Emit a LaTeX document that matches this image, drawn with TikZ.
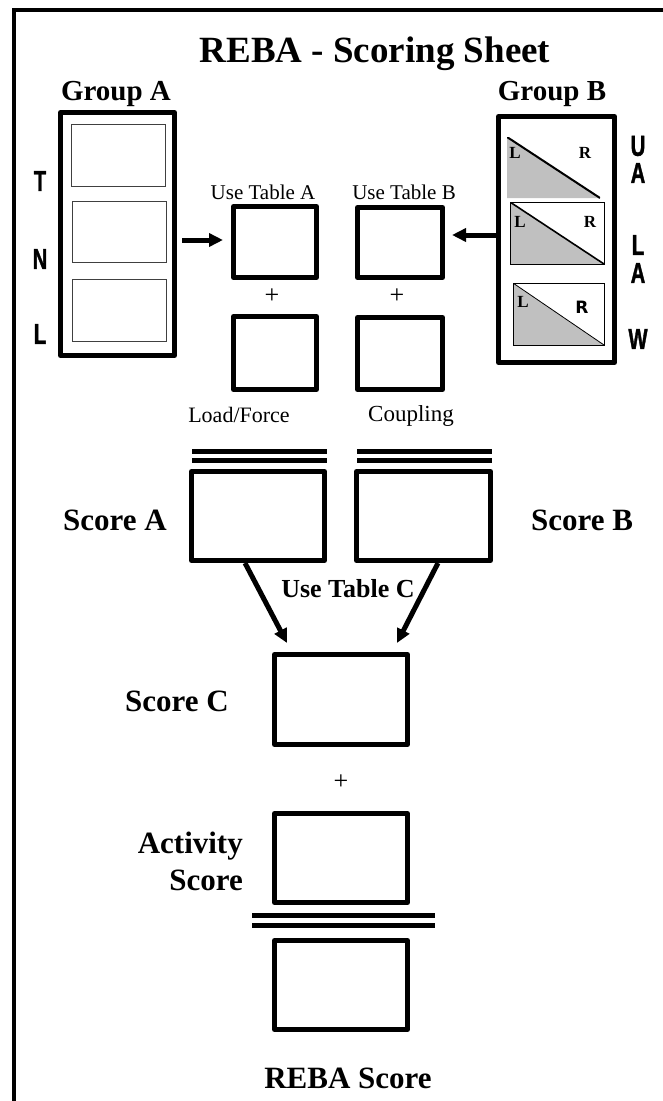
\documentclass[tikz,border=0pt]{standalone}
\usepackage{fontspec}
\setmainfont{Liberation Serif}
\newfontfamily\condsans{Liberation Sans}[FakeStretch=0.7, FakeBold=1.2]
\newfontfamily\heavysans{DejaVu Sans}
\usetikzlibrary{arrows.meta}
\newcommand{\fs}[1]{\fontsize{#1}{#1}\selectfont}
\definecolor{halftone}{RGB}{192,192,192}
\begin{document}
\begin{tikzpicture}[x=1pt,y=-1pt,
  bigbox/.style={draw, line width=5pt, line join=round, inner sep=0pt},
  thinbox/.style={draw=black!75, line width=1pt, inner sep=0pt},
  halfshade/.style={path picture={
      \fill[halftone] (path picture bounding box.north west) -- (path picture bounding box.south west) -- (path picture bounding box.south east) -- cycle;
      \draw[line width=#1] (path picture bounding box.north west) -- (path picture bounding box.south east);}},
  lbl/.style={inner sep=0pt, anchor=base},
  boldlbl/.style={lbl, font=\fs{31}\bfseries},
  reglbl/.style={lbl, font=\fs{22}},
  sideletter/.style={inner sep=0pt, font=\condsans\bfseries\fs{29}},
  smallletter/.style={inner sep=0pt, font=\fs{17}\bfseries},
  bigarrow/.style={line width=5pt, -{Triangle[length=14pt,width=13pt]}},
  dbl/.style={line width=5pt}
]
\useasboundingbox (0,0) rectangle (663,1101);
% frame
\draw[line width=4pt] (14,1101) -- (14,10) -- (663,10);

% title
\node[lbl, font=\fs{37}\bfseries] (title) at (375,62) {REBA - Scoring Sheet};
\node[lbl, font=\fs{29}\bfseries] (gatxt) at (116,100) {Group A};
\node[lbl, font=\fs{29}\bfseries] (gbtxt) at (552,100) {Group B};

% group A
\node[bigbox, minimum width=114pt, minimum height=243pt] (ga) at (117.5,234) {};
\node[thinbox, minimum width=94pt, minimum height=62pt] (ga1) at (118,155) {};
\node[thinbox, minimum width=94pt, minimum height=61pt] (ga2) at (119,231.5) {};
\node[thinbox, minimum width=94pt, minimum height=62pt] (ga3) at (119,310) {};
\node[sideletter] (lt) at (40,181) {T};
\node[sideletter] (ln) at (40,259) {N};
\node[sideletter] (ll) at (40,334) {L};

% group B
\node[bigbox, minimum width=116pt, minimum height=246pt] (gb) at (556.5,239.5) {};
\node[inner sep=0pt, minimum width=93pt, minimum height=61pt, halfshade=2pt] (gb1) at (553.5,167.5) {};
\node[thinbox, draw=black, minimum width=94pt, minimum height=62pt, halfshade=1.6pt] (gb2) at (557,233) {};
\node[thinbox, draw=black, minimum width=91pt, minimum height=62pt, halfshade=0.8pt] (gb3) at (558.5,314) {};
\node[smallletter] (gb1l) at (515,153) {L};
\node[smallletter] (gb1r) at (585,153) {R};
\node[smallletter] (gb2l) at (520,222) {L};
\node[smallletter] (gb2r) at (590,222) {R};
\node[smallletter] (gb3l) at (523,302) {L};
\node[inner sep=0pt, font=\heavysans\bfseries\fs{17}] (gb3r) at (582,307) {R};
\node[sideletter] (lu1) at (638,146) {U};
\node[sideletter] (la1) at (638,173) {A};
\node[sideletter] (ll2) at (638,245) {L};
\node[sideletter] (la2) at (638,273) {A};
\node[sideletter] (lw) at (638,339) {W};

% tables A / B
\node[bigbox, minimum width=83pt, minimum height=71pt] (ta) at (275,242) {};
\node[bigbox, minimum width=83pt, minimum height=73pt] (lf) at (275,353) {};
\node[bigbox, minimum width=85pt, minimum height=70pt] (tb) at (400,242.5) {};
\node[bigbox, minimum width=85pt, minimum height=72pt] (cp) at (400,353.5) {};
\node[lbl, font=\fs{21}] (tatxt) at (263,199) {Use Table A};
\node[lbl, font=\fs{21}] (tbtxt) at (404,199) {Use Table B};
\node[inner sep=0pt, font=\fs{26}] (plusa) at (272,296) {+};
\node[inner sep=0pt, font=\fs{26}] (plusb) at (397,296) {+};
\node[reglbl] (lftxt) at (239,422) {Load/Force};
\node[reglbl, font=\fs{23}] (cptxt) at (411,421) {Coupling};

\draw[bigarrow, shorten >=8pt] ([xshift=5pt,yshift=-6pt]ga.east) -- ([yshift=-6pt]ga.east -| ta.west);
\draw[bigarrow, shorten >=7pt] ([yshift=4.5pt]gb.west) -- ([yshift=4.5pt]gb.west -| tb.east);

% scores A / B
\draw[dbl] (192,451.5) -- (327,451.5);
\draw[dbl] (192,460.5) -- (327,460.5);
\draw[dbl] (357,451.5) -- (492,451.5);
\draw[dbl] (357,460.5) -- (492,460.5);
\node[bigbox, minimum width=133pt, minimum height=89pt] (sa) at (258,516) {};
\node[bigbox, minimum width=134pt, minimum height=89pt] (sb) at (423.5,516) {};
\node[boldlbl] (satxt) at (115,530) {Score A};
\node[boldlbl] (sbtxt) at (582,530) {Score B};
\node[lbl, font=\fs{26}\bfseries] (tctxt) at (348,597) {Use Table C};

% score C
\node[bigbox, minimum width=133pt, minimum height=90pt] (sc) at (341,699.5) {};
\node[boldlbl] (sctxt) at (177,711) {Score C};
\draw[bigarrow] ([xshift=-13pt]sa.south) -- ([xshift=-54pt,yshift=9pt]sc.north);
\draw[bigarrow] ([xshift=14.5pt]sb.south) -- ([xshift=56pt,yshift=9pt]sc.north);
\node[inner sep=0pt, font=\fs{26}] (plusc) at (341,782) {+};

% activity
\node[bigbox, minimum width=133pt, minimum height=89pt] (ac) at (341,858) {};
\node[boldlbl, anchor=base east] (actxt1) at (243,853) {Activity};
\node[boldlbl, anchor=base east] (actxt2) at (243,890) {Score};
\draw[dbl] (252,915) -- (435,915);
\draw[dbl] (252,925.5) -- (435,925.5);

% REBA score
\node[bigbox, minimum width=133pt, minimum height=89pt] (rs) at (341,985) {};
\node[boldlbl] (rstxt) at (348,1088) {REBA Score};
\end{tikzpicture}
\end{document}
